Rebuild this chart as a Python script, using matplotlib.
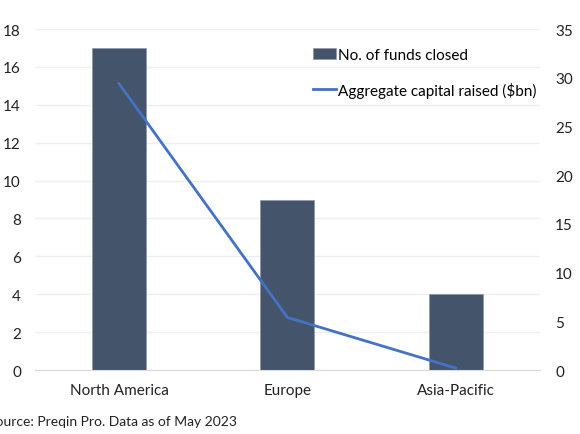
import matplotlib.pyplot as plt
import numpy as np

plt.rcParams['font.family'] = ['Lato', 'DejaVu Sans']

regions = ["North America", "Europe", "Asia-Pacific"]
funds_closed = [17, 9, 4]
capital_raised = [29.4, 5.4, 0.2]
source = "Source: Preqin Pro. Data as of May 2023"

fig = plt.figure(figsize=(5.8, 4.35), dpi=100)
ax = fig.add_axes([0.060, 0.147, 0.871, 0.784])
ax2 = ax.twinx()

x = np.arange(len(regions))
bars = ax.bar(x, funds_closed, width=0.32, color="#44546A", edgecolor="#8A96A8",
              linewidth=0.5, label="No. of funds closed", zorder=2)
line, = ax2.plot(x, capital_raised, color="#4472C4", linewidth=2,
                 label="Aggregate capital raised ($bn)")

ax.set_xlim(-0.5, 2.5)
ax.set_ylim(0, 18)
ax.set_yticks(range(0, 19, 2))
ax2.set_ylim(0, 35)
ax2.set_yticks(range(0, 36, 5))
ax.set_xticks(x)
ax.set_xticklabels(regions)

ax.grid(axis="y", color="#EFEFEF", linewidth=1, zorder=0)
ax.set_axisbelow(True)
for a in (ax, ax2):
    for s in a.spines.values():
        s.set_visible(False)
    a.tick_params(length=0, labelsize=11, colors="#222222")
ax.spines["bottom"].set_visible(True)
ax.spines["bottom"].set_color("#D9D9D9")
ax.tick_params(axis="x", pad=9)
ax.tick_params(axis="y", pad=10)
ax2.tick_params(axis="y", pad=11)

ax2.set_ylabel("Aggregate capital raised ($bn)", fontsize=11, color="#222222")
ax2.yaxis.set_label_coords(1.088, 0.5)

ax.legend([bars, line], ["No. of funds closed", "Aggregate capital raised ($bn)"],
          loc="upper right", bbox_to_anchor=(1.02, 0.985), frameon=False,
          fontsize=11, handlelength=1.5, handletextpad=0.1, labelspacing=1.3)

fig.text(-0.02, 0.015, source, fontsize=10, color="#222222", ha="left", va="bottom")

fig.savefig("out.png", dpi=100)
